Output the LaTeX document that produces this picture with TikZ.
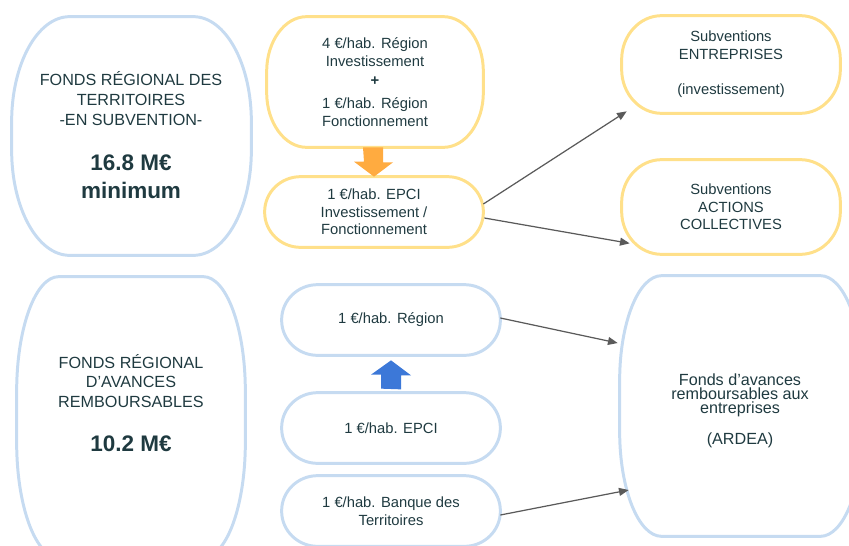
\documentclass[tikz,border=0pt]{standalone}
\usepackage{fontspec}
\setmainfont{Liberation Sans}
\usetikzlibrary{calc,arrows.meta}
\definecolor{paleblue}{HTML}{C6DBF1}
\definecolor{paleyellow}{HTML}{FFE08A}
\definecolor{arrorange}{HTML}{FFAB40}
\definecolor{arrblue}{HTML}{3C78D8}
\definecolor{inkteal}{HTML}{1F3A40}
\definecolor{linkgrey}{HTML}{5A5A5A}
\newcommand{\px}{0.02cm}
\tikzset{
  box/.style 2 args={inner sep=0pt, align=center, text=inkteal, minimum width=#1*\px, minimum height=#2*\px, font=\fontsize{8.4}{10}\selectfont},
  bigtext/.style={inner sep=0pt, align=center, text=inkteal, font=\fontsize{9.2}{11.2}\selectfont},
  amount/.style={inner sep=0pt, align=center, text=inkteal, font=\bfseries\fontsize{12.8}{16}\selectfont},
  ardeatext/.style={inner sep=0pt, align=center, text=inkteal, font=\fontsize{9.2}{7.9}\selectfont},
  link/.style={linkgrey, line width=0.7pt, -{Triangle[length=5.5pt,width=4.5pt]}}
}
% node, colour, x radius, y radius (px)
\newcommand{\pillshape}[4]{%
  \draw[#2, line width=1.7pt]
    ($(#1.north west)+(#3,0)$) -- ($(#1.north east)+(-#3,0)$)
    arc[start angle=90, end angle=0, x radius=#3*\px, y radius=#4*\px]
    -- ($(#1.south east)+(0,-#4)$)
    arc[start angle=0, end angle=-90, x radius=#3*\px, y radius=#4*\px]
    -- ($(#1.south west)+(#3,0)$)
    arc[start angle=-90, end angle=-180, x radius=#3*\px, y radius=#4*\px]
    -- ($(#1.north west)+(0,#4)$)
    arc[start angle=180, end angle=90, x radius=#3*\px, y radius=#4*\px]
    -- cycle;
}
\begin{document}
\begin{tikzpicture}[x=\px, y=-\px]
  \useasboundingbox (0,0) rectangle (849,545);
  \clip (0,0) rectangle (849,545);

  \node [box={239}{238}] (frt) at (131.5,136) {};
  \node [bigtext] (frtlabel) at (131,98.5) {FONDS RÉGIONAL DES\\TERRITOIRES\\-EN SUBVENTION-};
  \node [amount] (frtsum) at (131,177) {16.8 M€\\minimum};
  \node [box={228}{280}] (fra) at (131,417) {};
  \node [bigtext] (fralabel) at (131,381) {FONDS RÉGIONAL\\D’AVANCES\\REMBOURSABLES};
  \node [amount] (frasum) at (131,444) {10.2 M€};

  \node [box={216}{130}] (regy) at (375,82) {4 €/hab. Région\\Investissement\\[1pt]{\bfseries +}\\[3pt]1 €/hab. Région\\Fonctionnement};
  \node [box={218}{70}] (epciy) at (374,212) {1 €/hab. EPCI\\Investissement /\\Fonctionnement};
  \node [box={218}{70}] (regb) at (391,320) {1 €/hab. Région};
  \node [box={218}{70}] (epcib) at (391,428) {1 €/hab. EPCI};
  \node [box={218}{70}] (banq) at (391,511) {1 €/hab. Banque des\\Territoires};

  \node [box={218}{97}] (sent) at (731,64.5) {Subventions\\ENTREPRISES\\[10.2pt](investissement)};
  \node [box={218}{94}] (sac) at (731,207) {Subventions\\ACTIONS\\COLLECTIVES};
  \node [box={242}{260}] (ardea) at (741,406) {};
  \node [ardeatext] (ardealabel) at (740,411) {Fonds d’avances\\remboursables aux\\entreprises\\[8.5pt](ARDEA)};

  \pillshape{frt}{paleblue}{58}{105}
  \pillshape{fra}{paleblue}{42}{115}
  \pillshape{regy}{paleyellow}{40}{55}
  \pillshape{epciy}{paleyellow}{36}{35}
  \pillshape{regb}{paleblue}{36}{35}
  \pillshape{epcib}{paleblue}{36}{35}
  \pillshape{banq}{paleblue}{36}{35}
  \pillshape{sent}{paleyellow}{40}{44}
  \pillshape{sac}{paleyellow}{40}{43}
  \pillshape{ardea}{paleblue}{42}{105}

  \fill [arrorange] ($(regy.south)+(-12,0)$) -- ($(regy.south)+(8,0)$) -- ++(0,15) -- ++(10,0)
    -- (epciy.north) -- ++(-20,-15) -- ++(10,0) -- cycle;
  \fill [arrblue] ($(epcib.north)+(-10,-4)$) -- ++(0,-14) -- ++(-10,0) -- ($(regb.south)+(0,5)$)
    -- ++(20,15) -- ++(-10,0) -- ++(0,14) -- cycle;

  \draw [link] ($(epciy.east)+(0,-8)$) -- ($(sent.south west)+(5,-2)$);
  \draw [link] ($(epciy.east)+(1,6)$) -- ($(sac.south west)+(8,-11)$);
  \draw [link] ($(regb.east)+(0,-2)$) -- ($(ardea.west)+(-2,-63)$);
  \draw [link] ($(banq.east)+(0,4)$) -- ($(ardea.west)+(9,84)$);
\end{tikzpicture}
\end{document}
